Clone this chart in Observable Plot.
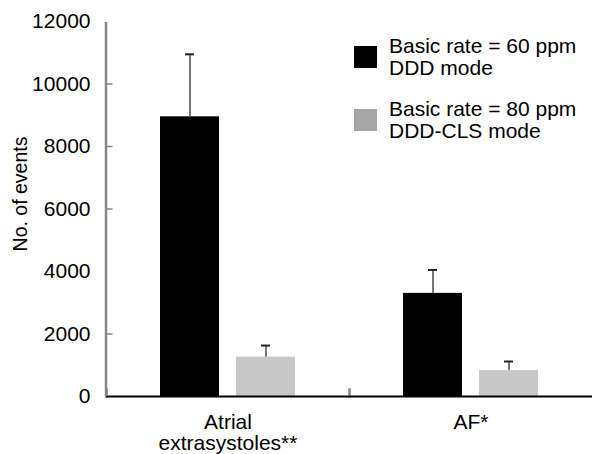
<!DOCTYPE html>
<html>
<head>
<meta charset="utf-8">
<script src="https://cdn.jsdelivr.net/npm/d3@7"></script>
<script src="https://cdn.jsdelivr.net/npm/@observablehq/plot@0.6"></script>
<style>
  html, body { margin: 0; padding: 0; background: #fff; }
  #wrap { position: relative; width: 592px; height: 454px; font-family: "Liberation Sans", Arial, sans-serif; }
  #legend { position: absolute; left: 354px; top: 35px; font-size: 21px; line-height: 22px; color: #000; }
  .item { display: flex; align-items: center; margin-bottom: 19px; }
  .sw { width: 23px; height: 22px; margin-right: 12px; flex: none; }
  #ylab { position: absolute; left: 20px; top: 194px; font-size: 19.5px; color: #000; white-space: nowrap;
          transform: translate(-50%, -50%) rotate(-90deg); }
</style>
</head>
<body>
<div id="wrap"></div>
<script>
// ---- data ----
const categories = ["Atrial extrasystoles**", "AF*"];
const categoryLabels = ["Atrial\nextrasystoles**", "AF*"];
const series = ["Basic rate = 60 ppm\nDDD mode", "Basic rate = 80 ppm\nDDD-CLS mode"];
const seriesKeys = ["ddd", "cls"];
const barColors = ["#000000", "#c8c8c8"];
const swatchColors = ["#000000", "#a6a6a6"];
const dddValues = [8950, 3300];
const dddUpper = [10950, 4050];
const clsValues = [1260, 830];
const clsUpper = [1630, 1120];
const yTickLabels = [0, 2000, 4000, 6000, 8000, 10000, 12000];
const yTickMarks = [2000, 6000, 8000, 10000];
const yLabel = "No. of events";

const rows = [];
categories.forEach((c, i) => {
  rows.push({cat: c, s: seriesKeys[0], v: dddValues[i], hi: dddUpper[i]});
  rows.push({cat: c, s: seriesKeys[1], v: clsValues[i], hi: clsUpper[i]});
});
const labelOf = new Map(categories.map((c, i) => [c, categoryLabels[i]]));
const firstCat = categories[0];

const chart = Plot.plot({
  width: 592,
  height: 454,
  marginLeft: 105,
  marginRight: 0,
  marginTop: 21,
  marginBottom: 58,
  style: {fontFamily: "Liberation Sans, Arial, sans-serif", fontSize: "21px", background: "#fff", color: "#000"},
  fx: {domain: categories, padding: 0, label: null},
  x: {domain: seriesKeys, paddingInner: 0.222, paddingOuter: 0.703, axis: null},
  y: {domain: [0, 12000], label: null},
  color: {domain: seriesKeys, range: barColors},
  marks: [
    Plot.barY(rows, {fx: "cat", x: "s", y: "v", fill: "s"}),
    Plot.ruleX(rows, {fx: "cat", x: "s", y1: "v", y2: "hi", stroke: "#777", strokeWidth: 2}),
    Plot.tickY(rows, {fx: "cat", x: "s", y: "hi", stroke: "#222", strokeWidth: 2, insetLeft: 25, insetRight: 25}),
    // inward y ticks, drawn only in the first facet
    Plot.ruleY(yTickMarks, {y: d => d, fx: () => firstCat, stroke: "#888", strokeWidth: 1.5, insetRight: 236.5}),
    // divider tick at each facet's left edge
    Plot.frame({anchor: "left", stroke: "#888", strokeWidth: 2.5, insetTop: 368}),
    Plot.ruleY([0], {stroke: "#000", strokeWidth: 2}),
    Plot.axisY({ticks: yTickLabels, tickSize: 0, tickPadding: 16, tickFormat: d => String(d), fill: "#000", fontSize: 21, label: null}),
    Plot.axisFx({anchor: "bottom", tickSize: 0, tickPadding: 18, tickFormat: d => labelOf.get(d), fontSize: 21, lineHeight: 1.0, label: null, fill: "#000"})
  ]
});

const wrap = document.getElementById("wrap");
wrap.appendChild(chart);

// y-axis line along the first facet's left edge, using the plot's scales
const ys = chart.scale("y");
const fxs = chart.scale("fx");
const svg = d3.select(chart.tagName.toLowerCase() === "svg" ? chart : chart.querySelector("svg"));
const x0 = fxs.apply(firstCat);
svg.append("line")
  .attr("x1", x0).attr("x2", x0)
  .attr("y1", ys.apply(ys.domain[1]) + 1).attr("y2", ys.apply(0))
  .attr("stroke", "#888").attr("stroke-width", 2.5);

const yl = document.createElement("div");
yl.id = "ylab";
yl.textContent = yLabel;
wrap.appendChild(yl);

const legend = document.createElement("div");
legend.id = "legend";
series.forEach((s, i) => {
  const item = document.createElement("div");
  item.className = "item";
  const sw = document.createElement("div");
  sw.className = "sw";
  sw.style.background = swatchColors[i];
  const t = document.createElement("div");
  t.innerHTML = s.split("\n").join("<br>");
  item.appendChild(sw);
  item.appendChild(t);
  legend.appendChild(item);
});
wrap.appendChild(legend);
</script>
</body>
</html>
